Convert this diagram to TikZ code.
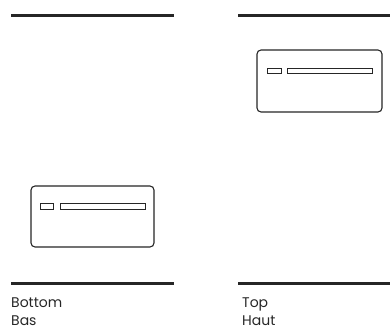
\documentclass[tikz,border=0pt]{standalone}
\usepackage{fontspec}
\setmainfont{Poppins}
\usepackage{tikz}
\usetikzlibrary{positioning}

\begin{document}
\begin{tikzpicture}[x=1pt,y=1pt]

  \tikzset{
    rule/.style={line width=3pt, draw=black!85},
    panel/.style={rounded corners=4pt, draw=black!85, line width=1.1pt, fill=white},
    slot/.style={draw=black!85, line width=0.9pt},
    caption/.style={font=\fontsize{14}{16}\selectfont, text=black!85, anchor=base west, inner sep=0pt}
  }

  \useasboundingbox (0,0) rectangle (390,329);

  % Bottom mounting
  \draw[rule] (11,313) -- (174,313);
  \draw[rule] (11,46) -- (174,46);
  \draw[panel] (31,143) rectangle (154,82);
  \draw[slot] (40,126) rectangle (53,120);
  \draw[slot] (60,126) rectangle (145,120);
  \node[caption] (bottomEn) at (11,22) {Bottom};
  \node[caption] (bottomFr) at (11,3.5) {Bas};

  % Top mounting
  \draw[rule] (238,313) -- (390,313);
  \draw[rule] (238,46) -- (390,46);
  \draw[panel] (257,279) rectangle (382,217);
  \draw[slot] (267,261) rectangle (281,256);
  \draw[slot] (287,261) rectangle (372,256);
  \node[caption] (topEn) at (242,22) {Top};
  \node[caption] (topFr) at (242,3.5) {Haut};

\end{tikzpicture}
\end{document}
